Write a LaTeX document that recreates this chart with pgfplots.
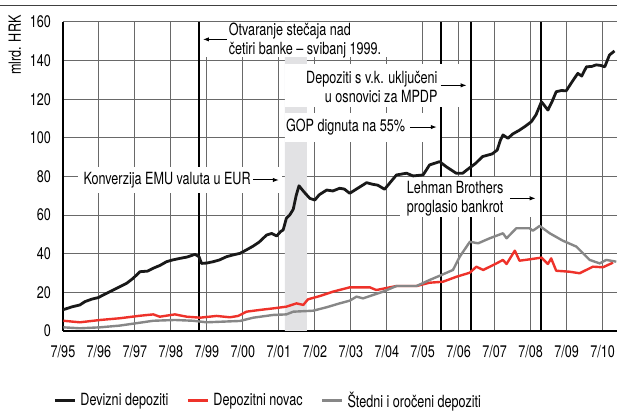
\documentclass[border=0pt]{standalone}
\usepackage{fontspec}
\setmainfont[FakeStretch=0.75]{TeX Gyre Heros}
\usepackage{pgfplots}
\pgfplotsset{compat=1.18}
\usetikzlibrary{arrows.meta}
\definecolor{redline}{RGB}{238,50,42}
\definecolor{greyline}{RGB}{135,135,135}
\definecolor{bandc}{RGB}{226,226,228}
\definecolor{gridc}{RGB}{105,105,105}

\begin{document}
\begin{tikzpicture}[font=\fontsize{8.4}{9.6}\selectfont]
\useasboundingbox (-31.5pt,-40.5pt) rectangle (277pt,165.5pt);
\draw[black!75,line width=0.5pt] (-31.5pt,162.5pt) -- (277pt,162.5pt);
\node[rotate=90,anchor=east,inner sep=0pt] at (-24pt,158pt) {mlrd. HRK};
\begin{axis}[at={(0pt,0pt)},anchor=south west,scale only axis,
  width=277pt,height=154.5pt,
  xmin=1995.5,xmax=2010.9,ymin=0,ymax=160,
  xtick={1995.5,1996.5,1997.5,1998.5,1999.5,2000.5,2001.5,2002.5,2003.5,2004.5,2005.5,2006.5,2007.5,2008.5,2009.5,2010.5},
  xticklabels={7/95,7/96,7/97,7/98,7/99,7/00,7/01,7/02,7/03,7/04,7/05,7/06,7/07,7/08,7/09,7/10},
  ytick={0,20,40,60,80,100,120,140,160},
  /pgf/number format/assume math mode=true,
  tick label style={font=\fontsize{8.4}{9.6}\selectfont},
  yticklabel style={xshift=-2.5pt},
  xticklabel style={yshift=-3.5pt},
  grid=major,major grid style={gridc,line width=0.5pt},
  major tick length=0pt,
  axis x line*=bottom,axis y line*=left,
  axis line style={black,line width=0.8pt},
  legend style={at={(rel axis cs:-0.018,-0.2265)},anchor=west,draw=none,fill=none,
    inner sep=0pt,font=\fontsize{8.4}{9.6}\selectfont,
    /tikz/every even column/.append style={column sep=7pt}},
  legend columns=3,
  legend image code/.code={\draw[#1,line width=1.5pt] (0pt,0pt) -- (10pt,0pt);},
  line join=round]

% grey band
\addplot[fill=bandc,draw=none,forget plot] coordinates {(2001.67,0)(2001.67,160)(2002.28,160)(2002.28,0)} \closedcycle;
% event lines
\addplot[black,line width=1pt,forget plot] coordinates {(1999.28,0)(1999.28,160)};
\addplot[black,line width=1pt,forget plot] coordinates {(2006.02,0)(2006.02,160)};
\addplot[black,line width=1pt,forget plot] coordinates {(2006.85,0)(2006.85,160)};
\addplot[black,line width=1pt,forget plot] coordinates {(2008.80,0)(2008.80,160)};

% white boxes behind annotations
\fill[white] (axis cs:1999.44,160) rectangle (axis cs:2004.72,141.9);
\fill[white] (axis cs:2001.67,138.3) rectangle (axis cs:2006.81,116.0);
\fill[white] (axis cs:2001.67,112.9) rectangle (axis cs:2005.97,97.9);
\fill[white] (axis cs:1995.92,84.9) rectangle (axis cs:2001.58,71.5);
\fill[white] (axis cs:2004.86,79.7) rectangle (axis cs:2008.75,59.0);

\addplot[black!90,line width=1.4pt] coordinates {
(1995.50,11.0)(1995.75,12.5)(1995.97,13.5)(1996.11,15.2)(1996.30,16.5)(1996.48,17.3)
(1996.71,19.5)(1996.99,22.1)(1997.27,24.7)(1997.45,27.3)(1997.64,30.7)(1997.85,31.0)
(1998.01,32.5)(1998.20,34.0)(1998.38,35.9)(1998.55,36.8)(1998.75,37.6)(1998.95,38.3)
(1999.17,39.7)(1999.28,38.5)(1999.35,35.0)(1999.50,35.2)(1999.68,35.9)(1999.85,36.8)
(2000.05,38.5)(2000.25,39.5)(2000.42,40.2)(2000.60,42.0)(2000.79,44.0)(2000.95,46.0)
(2001.16,49.7)(2001.30,50.5)(2001.44,49.2)(2001.55,51.5)(2001.62,52.3)(2001.71,58.4)
(2001.80,60.0)(2001.90,63.0)(2001.98,70.0)(2002.06,75.2)(2002.20,72.0)(2002.36,68.7)
(2002.50,67.8)(2002.62,70.5)(2002.83,73.0)(2003.00,72.5)(2003.19,73.9)(2003.32,73.5)
(2003.47,71.3)(2003.70,74.0)(2003.94,76.8)(2004.10,76.0)(2004.25,75.5)(2004.44,73.4)
(2004.60,77.0)(2004.77,80.8)(2005.05,81.7)(2005.23,80.3)(2005.51,80.8)(2005.69,86.0)
(2005.97,87.7)(2006.15,85.1)(2006.43,81.7)(2006.61,81.7)(2006.79,84.3)(2006.97,86.8)
(2007.16,90.3)(2007.43,91.7)(2007.57,93.7)(2007.66,98.9)(2007.73,101.5)(2007.87,99.8)
(2008.00,102.0)(2008.19,104.0)(2008.35,106.0)(2008.52,108.4)(2008.65,112.0)(2008.80,118.7)
(2008.98,114.4)(2009.10,119.0)(2009.21,123.9)(2009.35,124.5)(2009.49,124.4)(2009.65,129.0)
(2009.81,133.4)(2009.92,132.0)(2010.05,136.8)(2010.20,137.0)(2010.32,137.8)(2010.45,137.5)
(2010.56,136.8)(2010.69,142.9)(2010.83,145.0)};
\addlegendentry{Devizni depoziti}

\addplot[redline,line width=1.2pt] coordinates {
(1995.51,5.3)(1995.97,4.5)(1996.53,5.7)(1997.08,6.6)(1997.64,7.9)(1998.01,8.6)
(1998.19,7.4)(1998.61,8.6)(1998.94,7.4)(1999.31,6.9)(1999.77,7.8)(2000.14,7.1)
(2000.37,7.8)(2000.60,10.0)(2000.97,10.9)(2001.34,11.7)(2001.71,12.6)(2001.99,14.3)
(2002.18,13.5)(2002.31,16.4)(2002.64,18.1)(2003.01,20.4)(2003.47,22.6)(2004.03,22.6)
(2004.21,21.2)(2004.77,23.3)(2005.33,23.3)(2005.69,25.0)(2006.06,25.5)(2006.44,28.1)
(2006.81,30.2)(2006.99,33.3)(2007.18,31.6)(2007.55,35.0)(2007.73,36.8)(2007.83,34.7)
(2008.06,41.6)(2008.19,36.4)(2008.47,37.1)(2008.80,38.0)(2008.98,34.7)(2009.07,37.6)
(2009.21,31.2)(2009.58,30.7)(2009.86,29.9)(2010.23,33.3)(2010.51,33.0)(2010.79,35.4)};
\addlegendentry{Depozitni novac}

\addplot[greyline,line width=1.2pt] coordinates {
(1995.51,1.9)(1995.97,1.4)(1996.53,1.9)(1997.08,2.8)(1997.64,4.3)(1998.01,5.3)
(1998.61,5.7)(1999.12,5.3)(1999.49,4.5)(2000.42,5.2)(2000.79,6.9)(2001.34,8.3)
(2001.71,8.6)(2001.90,10.0)(2002.45,10.5)(2002.83,12.3)(2003.19,14.3)(2003.47,15.7)
(2003.66,17.8)(2003.84,16.9)(2004.40,20.4)(2004.77,23.3)(2005.33,23.3)(2005.69,26.4)
(2006.02,29.0)(2006.34,31.6)(2006.53,38.5)(2006.81,46.2)(2007.04,45.4)(2007.36,48.0)
(2007.73,50.6)(2007.83,48.0)(2008.10,53.2)(2008.47,53.2)(2008.56,51.9)(2008.75,54.4)
(2009.03,50.6)(2009.39,46.8)(2009.77,43.7)(2010.14,36.8)(2010.42,35.0)(2010.60,36.8)
(2010.88,35.9)};
\addlegendentry{Štedni i oročeni depoziti}

% annotations
\node[anchor=west,align=left,inner sep=0pt] at (axis cs:2000.10,150.2)
  {Otvaranje stečaja nad\\četiri banke – svibanj 1999.};
\draw[-{Latex[length=3pt,width=2.2pt]},line width=0.5pt] (axis cs:2000.05,151.0) -- (axis cs:1999.39,151.0);
\node[anchor=east,align=right,inner sep=0pt] at (axis cs:2005.92,126.5)
  {Depoziti s v.k. uključeni\\u osnovici za MPDP};
\draw[-{Latex[length=3pt,width=2.2pt]},line width=0.5pt] (axis cs:2006.00,127.2) -- (axis cs:2006.72,127.2);
\node[anchor=west,inner sep=0pt] at (axis cs:2001.69,105.6) {GOP dignuta na 55\%};
\draw[-{Latex[length=3pt,width=2.2pt]},line width=0.5pt] (axis cs:2005.14,105.6) -- (axis cs:2005.89,105.6);
\node[anchor=west,inner sep=0pt] at (axis cs:1996.06,78.2) {Konverzija EMU valuta u EUR};
\draw[-{Latex[length=3pt,width=2.2pt]},line width=0.5pt] (axis cs:2000.78,78.2) -- (axis cs:2001.50,78.2);
\node[align=center,inner sep=0pt] at (axis cs:2006.40,68.6) {Lehman Brothers\\proglasio bankrot};
\draw[-{Latex[length=3pt,width=2.2pt]},line width=0.5pt] (axis cs:2007.92,68.7) -- (axis cs:2008.64,68.7);
\end{axis}
\end{tikzpicture}
\end{document}
